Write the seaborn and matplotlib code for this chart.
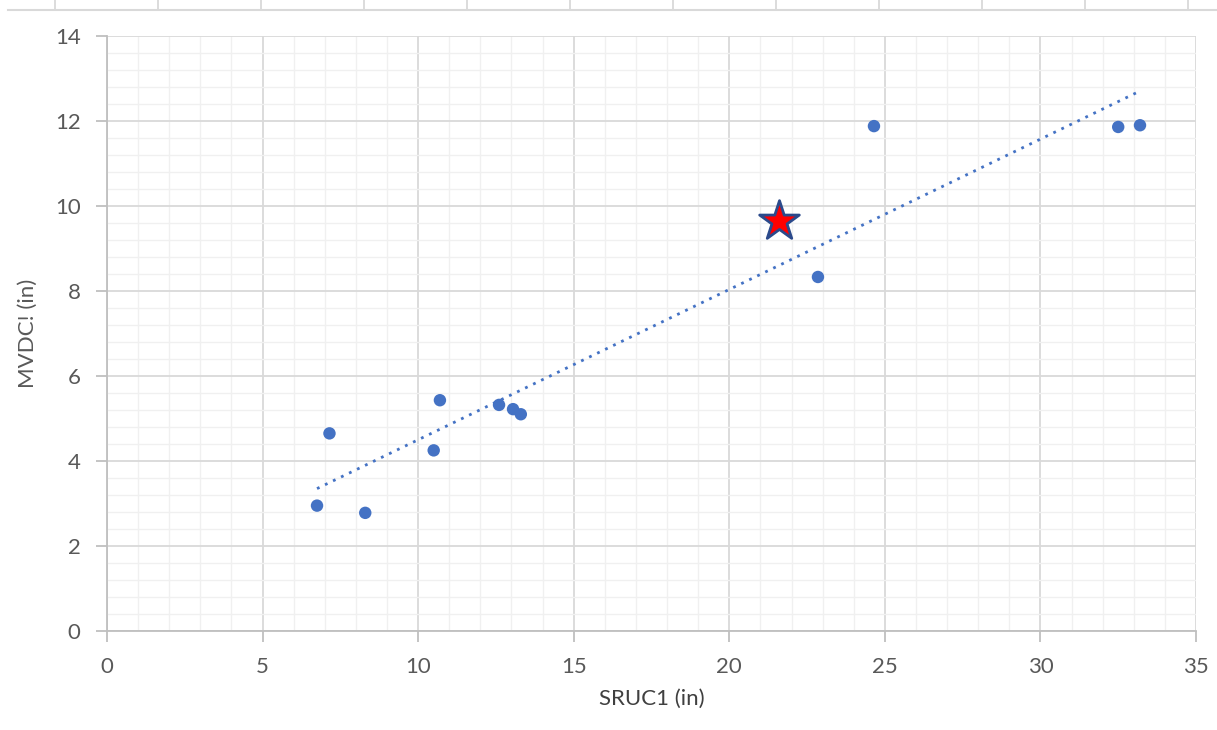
import numpy as np
import pandas as pd
import matplotlib
matplotlib.use("Agg")
import matplotlib.pyplot as plt
from matplotlib.ticker import MultipleLocator
import seaborn as sns

# Data
sruc1 = [6.75, 7.15, 8.3, 10.5, 10.7, 12.6, 13.05, 13.3, 22.85, 24.65, 32.5, 33.2]
mvdc = [2.95, 4.65, 2.78, 4.25, 5.43, 5.32, 5.22, 5.1, 8.33, 11.88, 11.86, 11.9]
star_x = [21.6]
star_y = [9.65]
x_ticks = [0, 5, 10, 15, 20, 25, 30, 35]
y_ticks = [0, 2, 4, 6, 8, 10, 12, 14]

df = pd.DataFrame({"SRUC1": sruc1, "MVDC": mvdc})
star_df = pd.DataFrame({"SRUC1": star_x, "MVDC": star_y})
all_df = pd.concat([df, star_df], ignore_index=True)

sns.set_theme(style="white")
plt.rcParams["font.family"] = ["Lato", "DejaVu Sans"]

BLUE = "#4472C4"
TXT = "#595959"

fig = plt.figure(figsize=(12.17, 7.30), dpi=100)
ax = fig.add_axes([107/1217, 99/730, 1089/1217, 595/730])

ax.set_xlim(0, 35)
ax.set_ylim(0, 14)
ax.xaxis.set_major_locator(MultipleLocator(5))
ax.xaxis.set_minor_locator(MultipleLocator(1))
ax.yaxis.set_major_locator(MultipleLocator(2))
ax.yaxis.set_minor_locator(MultipleLocator(0.4))
ax.grid(which="minor", color="#F0F0F0", linewidth=1.0)
ax.grid(which="major", color="#D9D9D9", linewidth=1.3)
ax.set_axisbelow(True)
for s in ["top", "right"]:
    ax.spines[s].set_visible(False)
for s in ["left", "bottom"]:
    ax.spines[s].set_color("#BFBFBF")
    ax.spines[s].set_linewidth(1.3)

# Linear trendline over the whole series (star included)
sns.regplot(data=all_df, x="SRUC1", y="MVDC", scatter=False, ci=None, truncate=True,
            ax=ax, line_kws=dict(color=BLUE, linestyle=(0, (1, 2.2)), linewidth=2.0))

sns.scatterplot(data=df, x="SRUC1", y="MVDC", ax=ax, color=BLUE, s=80,
                edgecolor="none", zorder=3)
sns.scatterplot(data=star_df, x="SRUC1", y="MVDC", ax=ax, marker="*", s=900,
                color="#FF0000", edgecolor="#2B4A8B", linewidth=2.0, zorder=4)

ax.set_xticks(x_ticks)
ax.set_yticks(y_ticks)
ax.tick_params(axis="both", which="major", labelsize=16, colors=TXT,
               length=8, width=1.3, color="#BFBFBF", pad=11, direction="out",
               bottom=True, left=True)
ax.tick_params(axis="both", which="minor", length=0)
ax.set_xlabel("SRUC1 (in)", fontsize=16, color="#404040", labelpad=8)
ax.set_ylabel("MVDC! (in)", fontsize=16, color=TXT, labelpad=12)

# Top strip (partial axis visible at the top of the screenshot)
top = fig.add_axes([8/1217, 720/730, 1209/1217, 10/730])
top.set_xlim(8, 1217)
top.set_ylim(0, 1)
top.set_xticks(np.arange(55, 1217, 103))
top.set_yticks([])
top.tick_params(axis="x", direction="in", length=10, width=1.3, color="#D9D9D9",
                labelbottom=False, bottom=True)
for s in ["top", "left", "right"]:
    top.spines[s].set_visible(False)
top.spines["bottom"].set_color("#D9D9D9")
top.spines["bottom"].set_linewidth(1.5)
top.patch.set_alpha(0)

fig.savefig("out.png", dpi=100)
